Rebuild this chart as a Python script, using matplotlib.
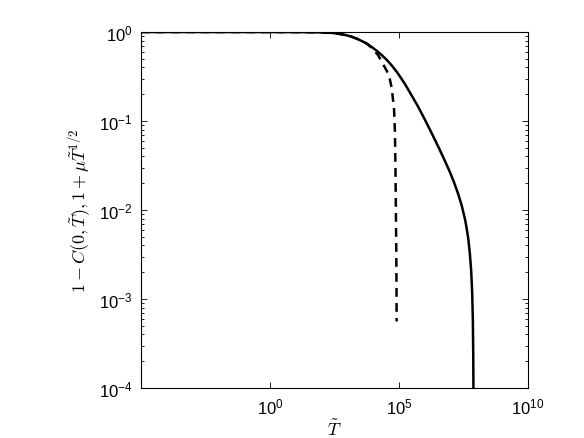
import numpy as np
import matplotlib
matplotlib.use("Agg")
import matplotlib.pyplot as plt
from matplotlib.ticker import FuncFormatter, NullLocator, LogLocator

plt.rcParams['mathtext.fontset'] = 'cm'

# Solid curve: 1 - C(0, T~)  (log10 T, value)
solid_logT = [-5.0, -2.0, 0.0, 1.0, 1.5, 2.0, 2.44, 2.7, 2.98, 3.18, 3.37, 3.56, 3.76, 3.95,
              4.15, 4.34, 4.53, 4.72, 4.92, 5.04, 5.23, 5.43, 5.72, 6.01, 6.30, 6.59, 6.78,
              6.98, 7.14, 7.30, 7.43, 7.56, 7.63, 7.69, 7.75, 7.80, 7.84, 7.865, 7.88, 7.887]
solid_val = [1.0, 1.0, 0.9995, 0.998, 0.995, 0.99, 0.975, 0.952, 0.918, 0.882, 0.841, 0.792,
             0.739, 0.677, 0.612, 0.548, 0.485, 0.421, 0.355, 0.316, 0.261, 0.208, 0.149,
             0.103, 0.0700, 0.0469, 0.0357, 0.0265, 0.0203, 0.0150, 0.0113, 0.0079, 0.0061,
             0.0047, 0.0032, 0.00207, 0.00115, 0.00057, 0.00023, 0.0001]

# Dashed curve: 1 + mu T~^{1/2}
dashed_logT = [-5.0, -2.0, 0.0, 1.0, 1.5, 2.0, 2.44, 2.7, 2.98, 3.18, 3.37, 3.56, 3.76, 3.95,
               4.19, 4.38, 4.53, 4.63, 4.72, 4.81, 4.845, 4.865, 4.88, 4.895, 4.905, 4.91]
dashed_val = [1.0, 1.0, 0.9995, 0.998, 0.995, 0.99, 0.975, 0.952, 0.918, 0.882, 0.841, 0.792,
              0.739, 0.66, 0.552, 0.437, 0.365, 0.31, 0.235, 0.136, 0.075, 0.030, 0.0102,
              0.0040, 0.0014, 0.00056]

xticks = [1e0, 1e5, 1e10]
yticks = [1e-4, 1e-3, 1e-2, 1e-1, 1e0]

fig = plt.figure(figsize=(5.84, 4.39), dpi=100)
ax = fig.add_axes([0.2414, 0.1139, 0.6626, 0.8109])

ax.plot(10 ** np.array(solid_logT), solid_val, color='black', lw=1.8,
        solid_capstyle='butt', solid_joinstyle='round')
ax.plot(10 ** np.array(dashed_logT), dashed_val, color='black', lw=1.8, ls=(0, (3.5, 2.5)),
        dash_joinstyle='round')

ax.set_xscale('log')
ax.set_yscale('log')
ax.set_xlim(1e-5, 1e10)
ax.set_ylim(1e-4, 1e0)
ax.set_xticks(xticks)
ax.set_yticks(yticks)
ax.xaxis.set_minor_locator(NullLocator())
ax.yaxis.set_minor_locator(LogLocator(base=10, subs=np.arange(2, 10), numticks=20))

fmt = FuncFormatter(lambda v, p: r'$\mathregular{10^{%d}}$' % int(round(np.log10(v))))
ax.xaxis.set_major_formatter(fmt)
ax.yaxis.set_major_formatter(fmt)

ax.tick_params(which='both', direction='in', top=True, right=True, width=0.6)
ax.tick_params(which='major', length=4.5, labelsize=12, pad=6)
ax.tick_params(which='minor', length=2.5)
for lab in ax.get_xticklabels() + ax.get_yticklabels():
    lab.set_fontfamily('Liberation Sans')
for s in ax.spines.values():
    s.set_linewidth(0.8)

ax.set_xlabel(r'$\tilde{T}$', fontsize=13, labelpad=2)
ax.set_ylabel(r'$1-C(0,\tilde{T}),1+\mu\tilde{T}^{1/2}$', fontsize=13, labelpad=4)

fig.savefig('out.png', dpi=100)
